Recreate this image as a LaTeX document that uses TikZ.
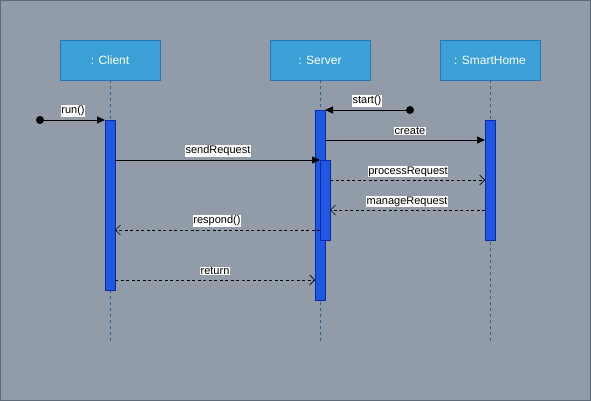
\documentclass[tikz,border=0pt]{standalone}
\usepackage{fontspec}
\setmainfont{Liberation Sans}
\usetikzlibrary{arrows.meta}
\definecolor{bg}{RGB}{145,156,168}
\definecolor{bgborder}{RGB}{94,106,118}
\definecolor{boxfill}{RGB}{58,160,214}
\definecolor{boxdraw}{RGB}{38,120,180}
\definecolor{actfill}{RGB}{30,88,226}
\definecolor{actdraw}{RGB}{10,40,170}
\definecolor{lifecol}{RGB}{40,100,150}
\tikzset{
  objbox/.style={draw=boxdraw, fill=boxfill, text=white, font=\fontsize{12}{14}\selectfont,
    minimum width=100pt, minimum height=40pt, inner sep=0pt, line width=0.8pt},
  actbox/.style={draw=actdraw, fill=actfill, line width=0.6pt},
  life/.style={draw=lifecol, dash pattern=on 3pt off 3pt, line width=0.6pt},
  syncmsg/.style={draw=black, line width=0.8pt, -{Triangle[length=8pt,width=7pt]}},
  retmsg/.style={draw=black, line width=0.7pt, dash pattern=on 3pt off 2.5pt, -{Straight Barb[length=5pt,width=10pt,line width=0.7pt]}},
  startdot/.style={circle, fill=black, inner sep=0pt, minimum size=8pt},
  msglabel/.style={fill=white, text=black, font=\fontsize{11}{12}\selectfont, inner sep=0.6pt}
}
\begin{document}
\begin{tikzpicture}[x=1pt,y=-1pt]
\path[fill=bg, draw=bgborder, line width=1.2pt] (0.6,0.6) rectangle (590.4,400.4);
\useasboundingbox (0,0) rectangle (591,401);
% objects
\node[objbox] (client) at (110,60) {: Client};
\node[objbox] (server) at (320,60) {: Server};
\node[objbox] (home) at (490,60) {: SmartHome};
% lifeline ends
\coordinate (cend) at (110,341);
\coordinate (send) at (320,341);
\coordinate (hend) at (490,341);
\draw[life] (client.south) -- (cend);
\draw[life] (server.south) -- (send);
\draw[life] (home.south) -- (hend);
% activations
\draw[actbox] (105,120) rectangle (115,290);
\draw[actbox] (315,110) rectangle (325,300);
\draw[actbox] (485,120) rectangle (495,240);
\draw[actbox] (320,160) rectangle (330,240);
% message endpoints
\node[startdot] (rundot) at (40,120) {};
\coordinate (runend) at (105,120);
\node[startdot] (startdot) at (410,110) {};
\coordinate (startend) at (325,110);
\coordinate (createA) at (325,140);
\coordinate (createB) at (485,140);
\coordinate (sendA) at (115,160);
\coordinate (sendB) at (320,160);
\coordinate (procA) at (330,180);
\coordinate (procB) at (485,180);
\coordinate (manA) at (485,210);
\coordinate (manB) at (330,210);
\coordinate (respA) at (320,230);
\coordinate (respB) at (115,230);
\coordinate (retA) at (115,280);
\coordinate (retB) at (315,280);
% messages
\draw[syncmsg] (rundot.center) -- (runend);
\draw[syncmsg] (startdot.center) -- (startend);
\draw[syncmsg] (createA) -- (createB);
\draw[syncmsg] (sendA) -- (sendB);
\draw[retmsg] (procA) -- (procB);
\draw[retmsg] (manA) -- (manB);
\draw[retmsg] (respA) -- (respB);
\draw[retmsg] (retA) -- (retB);
% labels
\node[msglabel] (lrun) at (73,111) {run()};
\node[msglabel] (lstart) at (367,101) {start()};
\node[msglabel] (lcreate) at (410,131) {create};
\node[msglabel] (lsend) at (218,151) {sendRequest};
\node[msglabel] (lproc) at (408,171.5) {processRequest};
\node[msglabel] (lman) at (407,201.5) {manageRequest};
\node[msglabel] (lresp) at (217,221) {respond()};
\node[msglabel] (lret) at (215,271) {return};
\end{tikzpicture}
\end{document}
